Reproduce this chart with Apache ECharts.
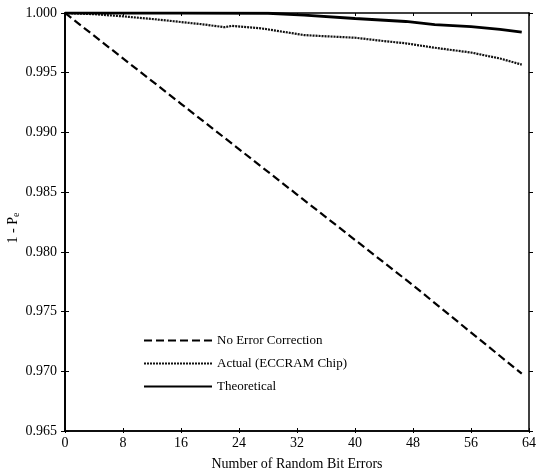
<!DOCTYPE html>
<html>
<head>
<meta charset="utf-8">
<script src="https://cdn.jsdelivr.net/npm/echarts@6/dist/echarts.min.js"></script>
<style>
  html, body { margin: 0; padding: 0; background: #fff; }
  #chart { width: 539px; height: 474px; }
</style>
</head>
<body>
<div id="chart"></div>
<script>
  // values
  const xTicks = [0, 8, 16, 24, 32, 40, 48, 56, 64];
  const yTicks = [0.965, 0.970, 0.975, 0.980, 0.985, 0.990, 0.995, 1.000];

  const noCorrX = [0, 16, 32, 48, 63];
  const noCorrY = [1.000, 0.9924, 0.9848, 0.9772, 0.9698];

  const actualX = [0, 4, 8, 12, 15, 19, 22, 23, 27, 33, 36, 40, 44, 47, 51, 56, 60, 63];
  const actualY = [1.0000, 0.9999, 0.99972, 0.9995, 0.99931, 0.99905, 0.99881, 0.99892, 0.99872,
                   0.99815, 0.99805, 0.99793, 0.99765, 0.99746, 0.99709, 0.99669, 0.99619, 0.99568];

  const theoX = [0, 16, 28, 33, 40, 47, 51, 56, 60, 63];
  const theoY = [1.0000, 1.0000, 0.99998, 0.99982, 0.99954, 0.99929, 0.99903, 0.99886, 0.99863, 0.99839];

  const seriesNames = ['No Error Correction', 'Actual (ECCRAM Chip)', 'Theoretical'];

  const pairs = (xs, ys) => xs.map((x, i) => [x, ys[i]]);
  const font = 'Liberation Serif';

  const chart = echarts.init(document.getElementById('chart'));

  const xBase = {
    type: 'value', min: xTicks[0], max: xTicks[xTicks.length - 1], interval: 8,
    splitLine: { show: false },
    axisLine: { lineStyle: { color: '#000', width: 1.5 } }
  };
  const yBase = {
    type: 'value', min: yTicks[0], max: yTicks[yTicks.length - 1], interval: 0.005,
    splitLine: { show: false },
    axisLine: { lineStyle: { color: '#000', width: 1.5 } }
  };

  const option = {
    backgroundColor: '#fff',
    animation: false,
    grid: { left: 65, right: 10, top: 13, bottom: 43, outerBoundsMode: 'none', containLabel: false },
    // y axis title "1 - Pe" with subscript e
    graphic: [{
      type: 'text',
      x: 13,
      y: 228,
      rotation: Math.PI / 2,
      style: {
        text: '{a|1 - P}{s|e}',
        align: 'center',
        verticalAlign: 'middle',
        rich: {
          a: { fontFamily: font, fontSize: 14, fill: '#000' },
          s: { fontFamily: font, fontSize: 10, fill: '#000', padding: [6, 0, 0, 0] }
        }
      }
    }],
    legend: {
      orient: 'vertical',
      left: 143,
      top: 334,
      itemWidth: 68,
      itemHeight: 12,
      itemGap: 10,
      padding: 0,
      data: seriesNames,
      itemStyle: { opacity: 0 },
      textStyle: { fontFamily: font, fontSize: 13, color: '#000' }
    },
    xAxis: [
      Object.assign({}, xBase, {
        position: 'bottom',
        name: 'Number of Random Bit Errors',
        nameLocation: 'middle',
        nameGap: 26,
        nameTextStyle: { fontFamily: font, fontSize: 14, color: '#000' },
        axisTick: { inside: true, length: 3, lineStyle: { color: '#000' } },
        axisLabel: { fontFamily: font, fontSize: 14, color: '#000', margin: 5 }
      }),
      Object.assign({}, xBase, {
        position: 'bottom',
        axisTick: { inside: false, length: 2, lineStyle: { color: '#000' } },
        axisLabel: { show: false }
      }),
      Object.assign({}, xBase, {
        position: 'top',
        axisTick: { inside: true, length: 3, lineStyle: { color: '#000' } },
        axisLabel: { show: false }
      })
    ],
    yAxis: [
      Object.assign({}, yBase, {
        position: 'left',
        axisTick: { inside: false, length: 4, lineStyle: { color: '#000' } },
        axisLabel: {
          fontFamily: font, fontSize: 14, color: '#000', margin: 8,
          formatter: v => v.toFixed(3)
        }
      }),
      Object.assign({}, yBase, {
        position: 'left',
        axisTick: { inside: true, length: 4, lineStyle: { color: '#000' } },
        axisLabel: { show: false }
      }),
      Object.assign({}, yBase, {
        position: 'right',
        axisTick: { inside: true, length: 4, lineStyle: { color: '#000' } },
        axisLabel: { show: false }
      }),
      Object.assign({}, yBase, {
        position: 'right',
        axisTick: { inside: false, length: 4, lineStyle: { color: '#000' } },
        axisLabel: { show: false }
      })
    ],
    series: [
      {
        name: seriesNames[0],
        type: 'line',
        symbol: 'none',
        data: pairs(noCorrX, noCorrY),
        lineStyle: { color: '#000', width: 2.2, type: [8, 4] },
        itemStyle: { color: '#000' }
      },
      {
        name: seriesNames[1],
        type: 'line',
        symbol: 'none',
        data: pairs(actualX, actualY),
        lineStyle: { color: '#111', width: 2.2, type: [2, 1] },
        itemStyle: { color: '#111' }
      },
      {
        name: seriesNames[2],
        type: 'line',
        symbol: 'none',
        data: pairs(theoX, theoY),
        lineStyle: { color: '#000', width: 2.8 },
        itemStyle: { color: '#000' }
      }
    ]
  };

  chart.setOption(option);
</script>
</body>
</html>
